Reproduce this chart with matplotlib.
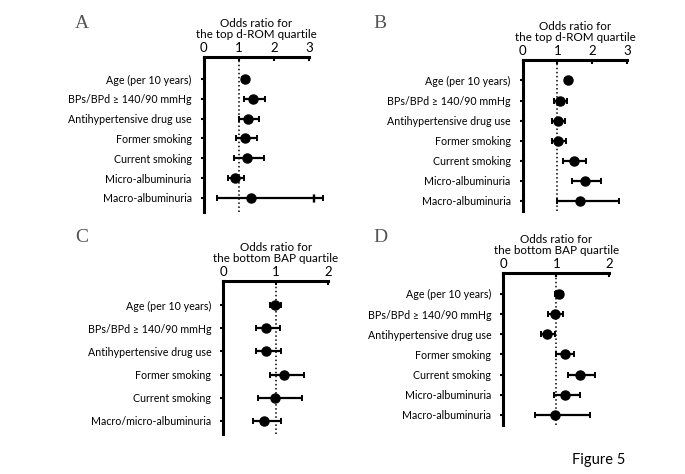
import matplotlib
matplotlib.use("Agg")
import matplotlib.pyplot as plt

plt.rcParams['font.family'] = ['Lato', 'DejaVu Sans']

W, H = 685, 474

labels_ab = ['Age (per 10 years)', 'BPs/BPd \u2265 140/90 mmHg', 'Antihypertensive drug use',
             'Former smoking', 'Current smoking', 'Micro-albuminuria', 'Macro-albuminuria']
labels_c = ['Age (per 10 years)', 'BPs/BPd \u2265 140/90 mmHg', 'Antihypertensive drug use',
            'Former smoking', 'Current smoking', 'Macro/micro-albuminuria']
labels_d = labels_ab

# odds ratio, lower CI, upper CI
or_a = [1.18, 1.41, 1.27, 1.19, 1.25, 0.89, 1.35]
lo_a = [1.09, 1.16, 1.01, 0.92, 0.88, 0.69, 0.39]
hi_a = [1.27, 1.75, 1.57, 1.51, 1.73, 1.14, 3.39]

or_b = [1.30, 1.06, 1.02, 1.02, 1.46, 1.79, 1.65]
lo_b = [1.22, 0.91, 0.85, 0.85, 1.17, 1.43, 0.99]
hi_b = [1.38, 1.27, 1.23, 1.25, 1.82, 2.25, 2.76]

or_c = [0.99, 0.82, 0.82, 1.16, 0.99, 0.78]
lo_c = [0.89, 0.62, 0.62, 0.88, 0.67, 0.56]
hi_c = [1.10, 1.08, 1.10, 1.53, 1.49, 1.10]

or_d = [1.05, 0.98, 0.83, 1.16, 1.45, 1.17, 0.98]
lo_d = [0.97, 0.85, 0.71, 1.00, 1.22, 0.95, 0.59]
hi_d = [1.12, 1.13, 0.98, 1.34, 1.73, 1.44, 1.63]

title_top = 'Odds ratio for\nthe top d-ROM quartile'
title_bottom = 'Odds ratio for\nthe bottom BAP quartile'

panels = [
    # letter, labels, or, lo, hi, title, xmax, box (l, r, top, bottom px), ylim pads, letter pos px
    ('A', labels_ab, or_a, lo_a, hi_a, title_top, 3, (203.5, 309, 57, 212), (-1.11, 6.71), (82, 24)),
    ('B', labels_ab, or_b, lo_b, hi_b, title_top, 3, (522.5, 627.3, 60, 211), (-1.02, 6.5), (380, 24)),
    ('C', labels_c, or_c, lo_c, hi_c, title_bottom, 2, (223.3, 328.3, 281, 434), (-1.04, 5.57), (82, 238)),
    ('D', labels_d, or_d, lo_d, hi_d, title_bottom, 2, (503.3, 609.3, 273, 425), (-1.04, 6.5), (380, 238)),
]

fig = plt.figure(figsize=(W / 100, H / 100), dpi=100)
fig.patch.set_facecolor('white')

for letter, labels, ors, los, his, title, xmax, box, ylims, lpos in panels:
    l, r, t, b = box
    ax = fig.add_axes([l / W, 1 - b / H, (r - l) / W, (b - t) / H])
    y = list(range(len(labels)))
    xerr_lo = [o - lo for o, lo in zip(ors, los)]
    xerr_hi = [hi - o for o, hi in zip(ors, his)]
    ax.errorbar(ors, y, xerr=[xerr_lo, xerr_hi], fmt='o', color='black', ms=6.5,
                elinewidth=1.6, capsize=2, capthick=1.4, clip_on=False, zorder=3)
    ax.axvline(1, color='black', linestyle=':', linewidth=1.1, zorder=1)
    if max(his) > xmax:
        # axis break marks on the truncated interval
        k = his.index(max(his))
        for bx in (xmax + 0.10, xmax + 0.15):
            ax.plot([bx], [y[k]], marker='|', ms=6, mew=1.0, color='black', clip_on=False)
    ax.set_xlim(0, xmax)
    ax.set_ylim(ylims[1], ylims[0])
    ax.set_xticks(range(xmax + 1))
    ax.set_yticks(y)
    ax.set_yticklabels(labels)
    ax.xaxis.tick_top()
    ax.tick_params(axis='x', direction='in', length=3, width=1.5, pad=2, labelsize=9.5)
    ax.tick_params(axis='y', direction='out', length=2.5, width=1.5, pad=6, labelsize=7.7)
    for side in ('right', 'bottom'):
        ax.spines[side].set_visible(False)
    for side in ('left', 'top'):
        ax.spines[side].set_linewidth(2.2)
    ax.annotate(title, xy=(0.5, 1), xycoords='axes fraction', xytext=(0, 17),
                textcoords='offset pixels', ha='center', va='bottom', fontsize=8.4,
                linespacing=1.0)
    fig.text(lpos[0] / W, 1 - lpos[1] / H, letter, ha='center', va='center',
             fontsize=14, family='Liberation Serif', color='#555555')

fig.text(599 / W, 1 - 460 / H, 'Figure 5', ha='center', va='center', fontsize=10.5)

fig.savefig('out.png', dpi=100)
